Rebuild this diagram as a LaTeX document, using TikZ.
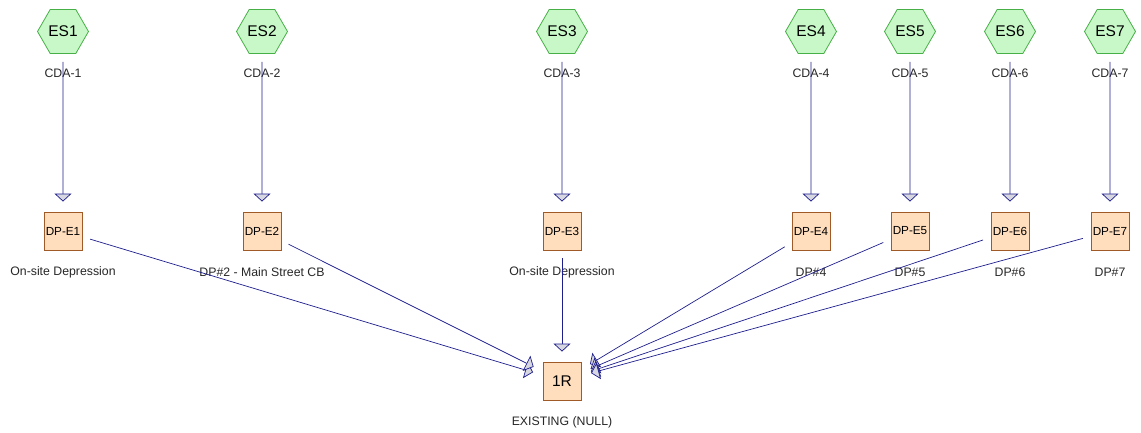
\documentclass[tikz,border=0pt]{standalone}
\usepackage{fontspec}
\setmainfont{Liberation Sans}
\usetikzlibrary{shapes.geometric,arrows.meta}
\definecolor{hexfill}{RGB}{200,248,200}
\definecolor{hexdraw}{RGB}{70,175,70}
\definecolor{sqfill}{RGB}{255,222,190}
\definecolor{sqdraw}{RGB}{160,90,40}
\definecolor{lnblue}{RGB}{30,30,140}
\definecolor{tipfill}{RGB}{215,215,225}
\tikzset{
  esnode/.style={regular polygon, regular polygon sides=6, minimum size=51pt, inner sep=0pt,
    fill=hexfill, draw=hexdraw, line width=0.8pt, font=\fontsize{15.5}{18}\selectfont},
  dpnode/.style={rectangle, minimum size=38pt, inner sep=0pt, fill=sqfill, draw=sqdraw,
    line width=0.8pt, font=\fontsize{11.7}{14}\selectfont},
  rnode/.style={dpnode, font=\fontsize{15.5}{18}\selectfont},
  lbl/.style={inner sep=0pt, text=black!85, font=\fontsize{12.3}{14}\selectfont},
  flow/.style={draw=lnblue, line width=0.7pt, shorten <=8pt, shorten >=10pt,
    -{Triangle[length=8pt,width=17pt,fill=tipfill]}}
}
\begin{document}
\begin{tikzpicture}[x=1pt,y=-1pt]
\useasboundingbox (0,0) rectangle (1141,433);
% source hexagons, labels and detention points
\foreach \n/\x in {1/63,2/262,3/562,4/811,5/910,6/1010,7/1110}{
  \node[esnode] (es\n) at (\x,31.5) {ES\n};
  \node[lbl] (cda\n) at (\x,73) {CDA-\n};
  \node[dpnode] (dp\n) at (\x,231) {DP-E\n};
}
\node[lbl] (l1) at (63,272.5) {On-site Depression};
\node[lbl] (l2) at (262,272.5) {DP\#2 - Main Street CB};
\node[lbl] (l3) at (562,272.5) {On-site Depression};
\node[lbl] (l4) at (811,272.5) {DP\#4};
\node[lbl] (l5) at (910,272.5) {DP\#5};
\node[lbl] (l6) at (1010,272.5) {DP\#6};
\node[lbl] (l7) at (1110,272.5) {DP\#7};
\node[rnode] (r1) at (562,381) {1R};
\node[lbl] (lr) at (562,422) {EXISTING (NULL)};
% connectors
\foreach \n in {1,...,7}{
  \draw[flow] (es\n) -- (dp\n);
  \draw[flow] (dp\n) -- (r1);
}
\end{tikzpicture}
\end{document}
